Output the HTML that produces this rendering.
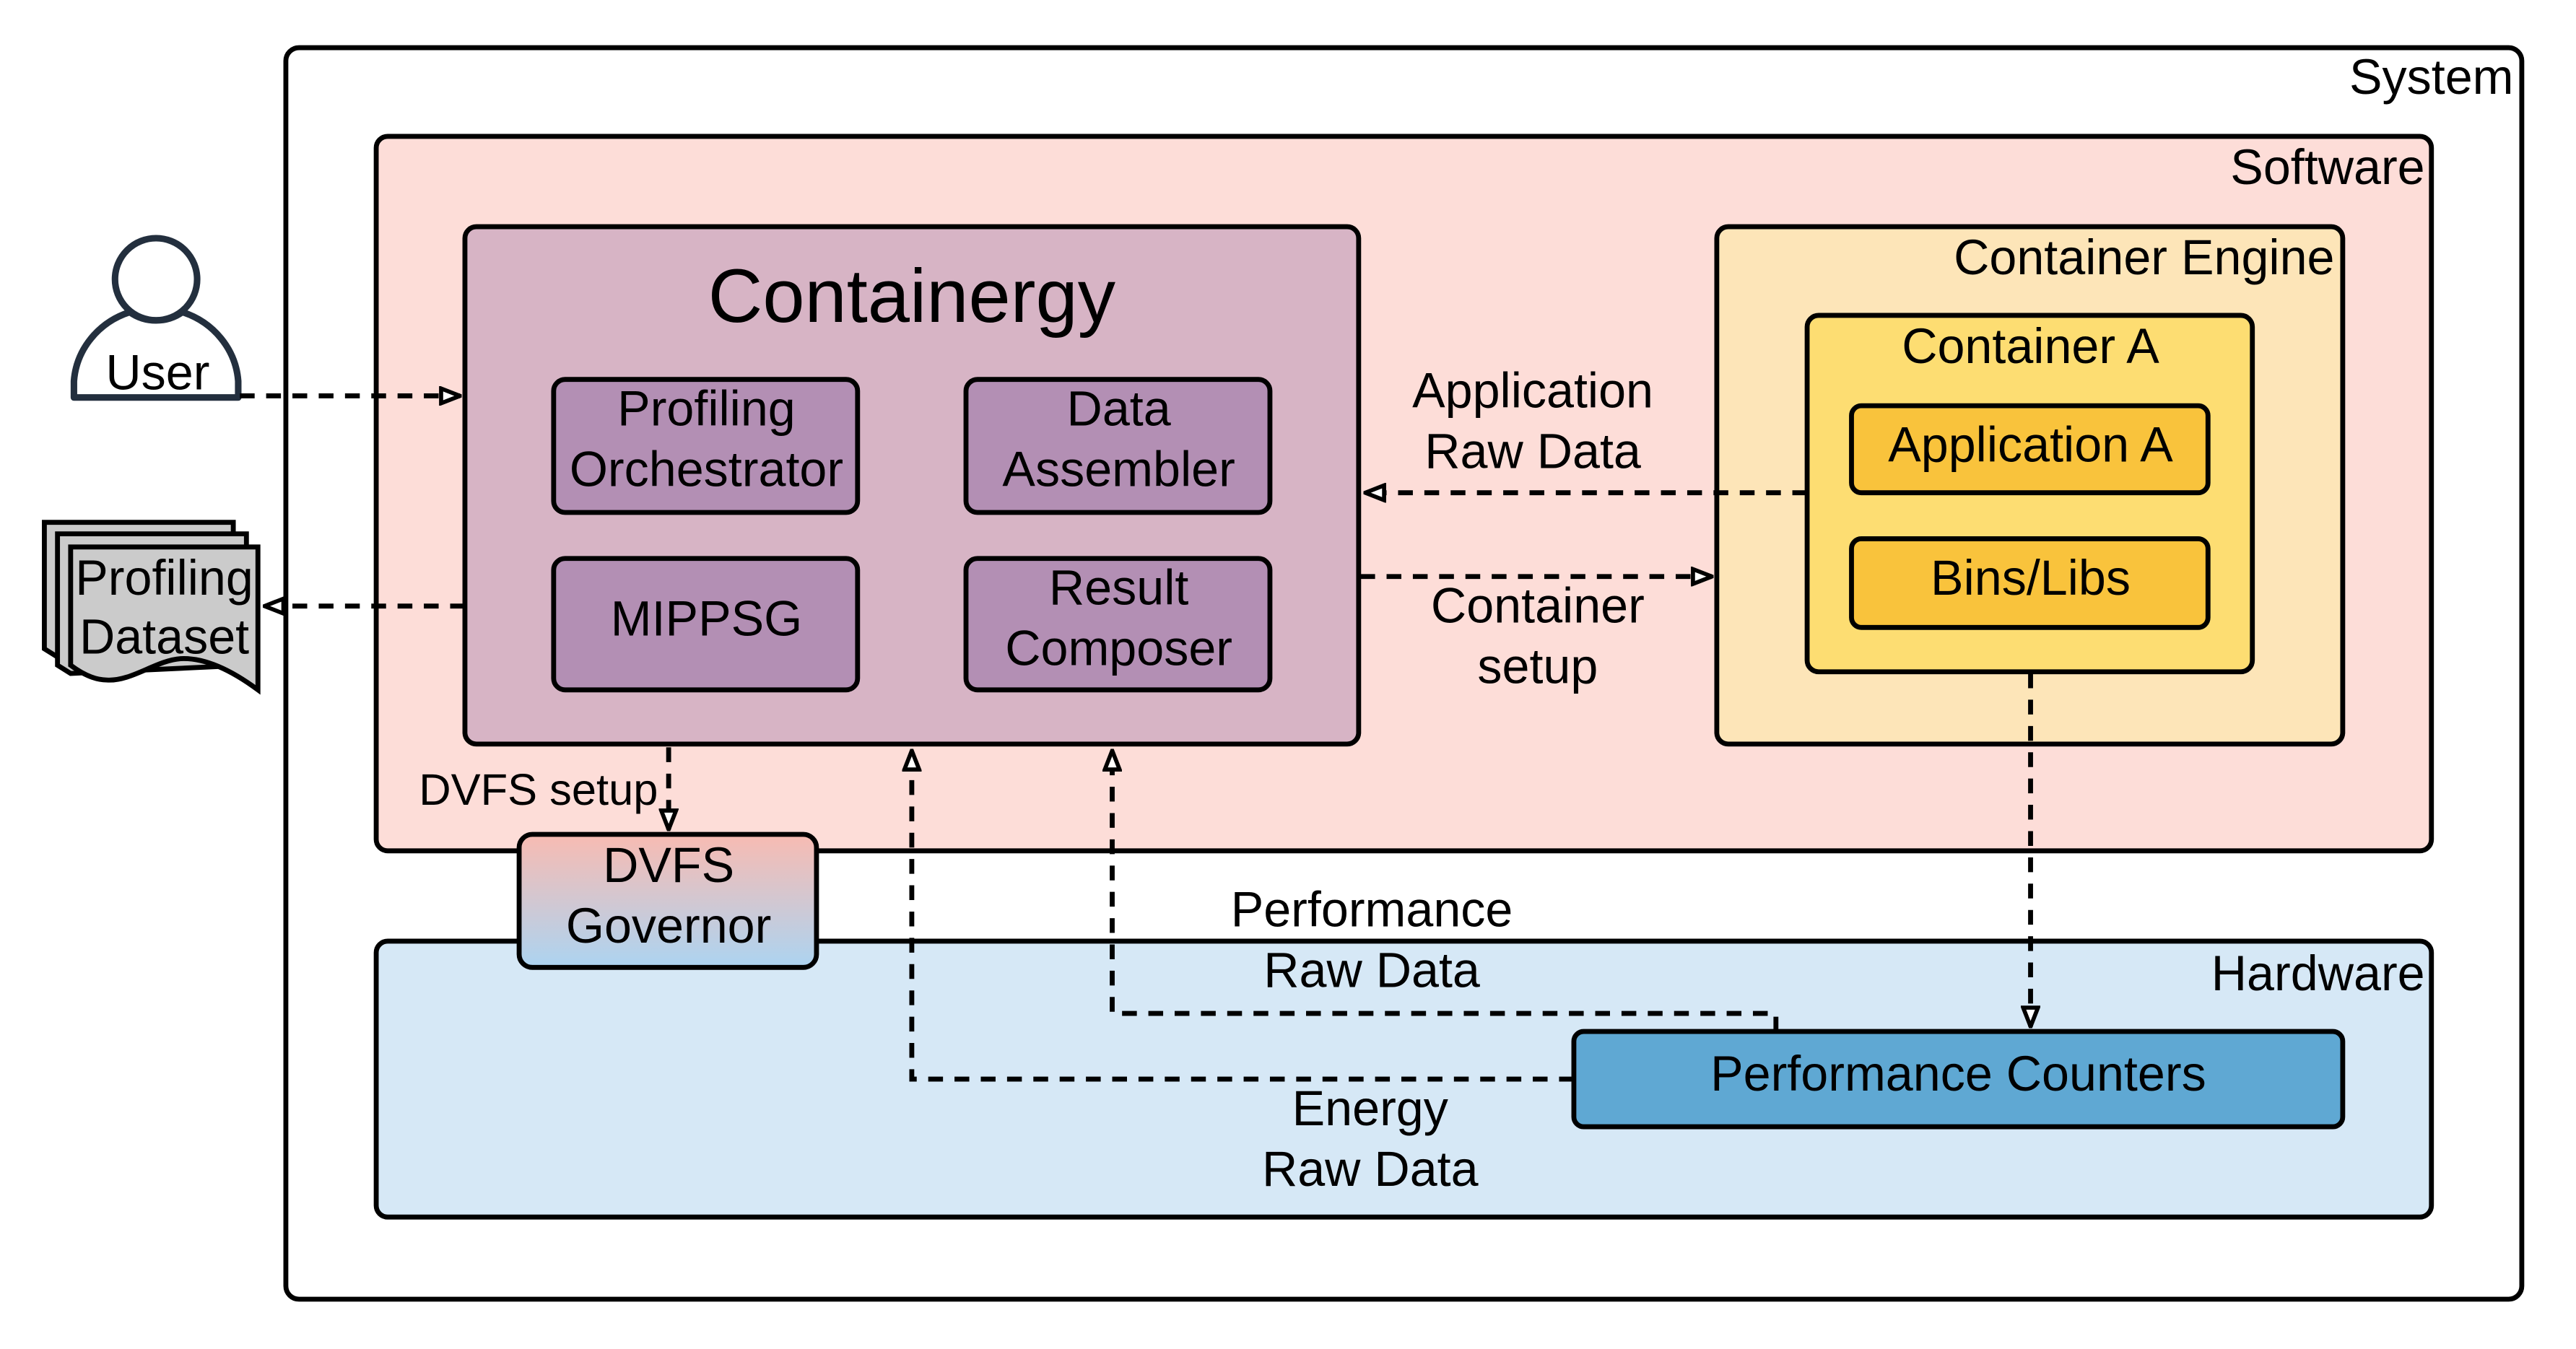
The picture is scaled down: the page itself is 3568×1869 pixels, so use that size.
<!DOCTYPE html>
<html><head><meta charset="utf-8"><style>html,body{margin:0;padding:0;background:#fff}svg{display:block}</style></head>
<body>
<svg xmlns="http://www.w3.org/2000/svg" width="3568" height="1869" viewBox="0 0 1568 821.3">
<defs>
<linearGradient id="g" x1="0" y1="0" x2="0" y2="1"><stop offset="0" stop-color="#f8bbb2"/><stop offset="1" stop-color="#acd4f1"/></linearGradient>
<marker id="a" viewBox="0 0 14 12" refX="13" refY="6" markerWidth="14" markerHeight="12" markerUnits="userSpaceOnUse" orient="auto"><path d="M1.5,1.5 L13,6 L1.5,10.5 Z" fill="#fff" stroke="#000" stroke-width="2.5"/></marker>
</defs>
<g font-family="Liberation Sans, sans-serif" fill="#000">
<rect x="174" y="29" width="1361" height="762" rx="8" fill="#fff" stroke="#000" stroke-width="3"/>
<text x="1530" y="57" font-size="30" text-anchor="end">System</text>
<rect x="229" y="83" width="1251" height="435" rx="7" fill="#fdddd8" stroke="#000" stroke-width="3"/>
<text x="1476" y="112" font-size="30" text-anchor="end">Software</text>
<rect x="229" y="573" width="1251" height="168" rx="7" fill="#d6e8f6" stroke="#000" stroke-width="3"/>
<text x="1476" y="603" font-size="30" text-anchor="end">Hardware</text>
<rect x="283" y="138" width="544" height="315" rx="7" fill="#d7b4c5" stroke="#000" stroke-width="3"/>
<text x="555" y="196" font-size="46" text-anchor="middle">Containergy</text>
<g fill="#b38fb4" stroke="#000" stroke-width="3">
<rect x="337" y="231" width="185" height="81" rx="7"/>
<rect x="588" y="231" width="185" height="81" rx="7"/>
<rect x="337" y="340" width="185" height="80" rx="7"/>
<rect x="588" y="340" width="185" height="80" rx="7"/>
</g>
<g font-size="30" text-anchor="middle">
<text x="430" y="259">Profiling</text><text x="430" y="296">Orchestrator</text>
<text x="681" y="259">Data</text><text x="681" y="296">Assembler</text>
<text x="430" y="387">MIPPSG</text>
<text x="681" y="368">Result</text><text x="681" y="405">Composer</text>
</g>
<rect x="1045" y="138" width="381" height="315" rx="7" fill="#fde5b8" stroke="#000" stroke-width="3"/>
<text x="1421" y="167" font-size="30" text-anchor="end">Container Engine</text>
<rect x="1100" y="192" width="271" height="217" rx="7" fill="#fddd72" stroke="#000" stroke-width="3"/>
<text x="1236" y="221" font-size="30" text-anchor="middle">Container A</text>
<rect x="1127" y="247" width="217" height="53" rx="6" fill="#f9c33c" stroke="#000" stroke-width="3"/>
<text x="1236" y="281" font-size="30" text-anchor="middle">Application A</text>
<rect x="1127" y="328" width="217" height="54" rx="6" fill="#f9c33c" stroke="#000" stroke-width="3"/>
<text x="1236" y="362" font-size="30" text-anchor="middle">Bins/Libs</text>
<rect x="316" y="508" width="181" height="81" rx="8" fill="url(#g)" stroke="#000" stroke-width="3"/>
<text x="407" y="537" font-size="30" text-anchor="middle">DVFS</text>
<text x="407" y="574" font-size="30" text-anchor="middle">Governor</text>
<rect x="958" y="628" width="468" height="58" rx="6" fill="#5fa8d3" stroke="#000" stroke-width="3"/>
<text x="1192" y="664" font-size="30" text-anchor="middle">Performance Counters</text>
<!-- user -->
<circle cx="95" cy="170" r="25" fill="#fff" stroke="#232f3e" stroke-width="4"/>
<path d="M45,242 L45,232 A50,48 0 0 1 79,190 A26,24 0 0 0 111,190 A50,48 0 0 1 145,232 L145,242 Z" fill="#fff" stroke="#232f3e" stroke-width="4" stroke-linejoin="round"/>
<text x="96" y="237" font-size="30" text-anchor="middle">User</text>
<!-- dataset -->
<g stroke="#000" stroke-width="3" fill="#cbcbcb">
<path d="M27,318 L142,318 L142,400 L35,400 L27,395 Z"/>
<path d="M35,325 L150,325 L150,405 L43,410 L35,405 Z"/>
<path d="M43,333 L157,333 L157,420 Q130,400 110,401 C95,402 80,415 65,414 Q55,414 43,405 Z"/>
</g>
<text x="100" y="362" font-size="30" text-anchor="middle">Profiling</text>
<text x="100" y="398" font-size="30" text-anchor="middle">Dataset</text>
<!-- arrows -->
<g fill="none" stroke="#000" stroke-width="3" stroke-dasharray="9,7">
<path d="M146,241 L280,241" marker-end="url(#a)"/>
<path d="M283,369 L161,369" marker-end="url(#a)"/>
<path d="M1100,300 L831,300" marker-end="url(#a)"/>
<path d="M828,351 L1042,351" marker-end="url(#a)"/>
<path d="M407,455 L407,505" marker-end="url(#a)"/>
<path d="M1236,410 L1236,625" marker-end="url(#a)"/>
<path d="M1081,628 L1081,617 L677,617 L677,457" marker-end="url(#a)"/>
<path d="M958,657 L555,657 L555,457" marker-end="url(#a)"/>
</g>
<g font-size="30" text-anchor="middle">
<text x="933" y="248">Application</text><text x="933" y="285">Raw Data</text>
<text x="936" y="379">Container</text><text x="936" y="416">setup</text>
<text x="835" y="564">Performance</text><text x="835" y="601">Raw Data</text>
<text x="834" y="685">Energy</text><text x="834" y="722">Raw Data</text>
</g>
<text x="255" y="490" font-size="27">DVFS setup</text>
</g>
</svg>
</body></html>
